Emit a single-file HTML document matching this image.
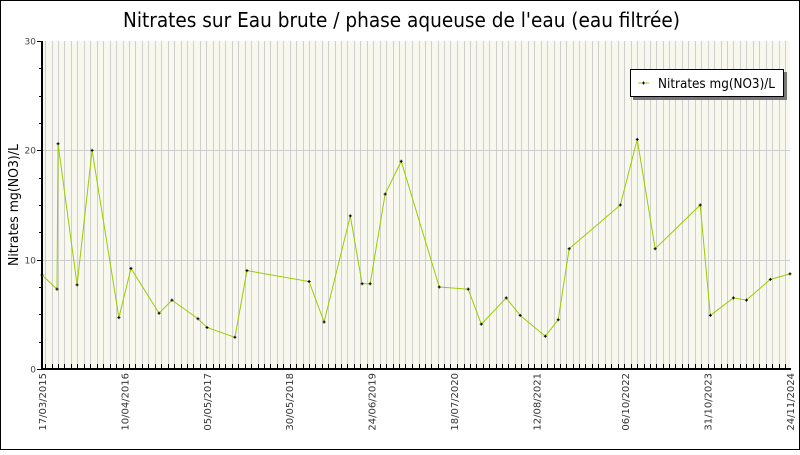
<!DOCTYPE html>
<html><head><meta charset="utf-8"><style>
html,body{margin:0;padding:0;background:#fff;}
svg text{font-family:"DejaVu Sans","Liberation Sans",sans-serif;}
</style></head><body>
<svg id="chart" width="800" height="450" viewBox="0 0 800 450" xmlns="http://www.w3.org/2000/svg">
<rect x="0.5" y="0.5" width="799" height="449" fill="#fff" stroke="#000"/>
<text x="123" y="27" font-size="20" fill="#000" textLength="557" lengthAdjust="spacingAndGlyphs">Nitrates sur Eau brute / phase aqueuse de l'eau (eau filtrée)</text>
<text transform="translate(18,205) rotate(-90)" text-anchor="middle" font-size="13" fill="#000" textLength="122" lengthAdjust="spacingAndGlyphs">Nitrates mg(NO3)/L</text>
<g id="plot"></g>
</svg>
<script>
const dates = ["2015-03-17","2015-05-27","2015-06-01","2015-08-30","2015-11-09","2016-03-15","2016-05-11","2016-09-21","2016-11-21","2017-03-24","2017-05-06","2017-09-15","2017-11-11","2018-09-01","2018-11-11","2019-03-15","2019-05-10","2019-06-17","2019-08-27","2019-11-11","2020-05-09","2020-09-23","2020-11-24","2021-03-22","2021-05-27","2021-09-23","2021-11-23","2022-01-14","2022-09-13","2022-12-02","2023-02-25","2023-09-26","2023-11-13","2024-03-01","2024-05-02","2024-08-23","2024-11-24"];
const values = [8.6,7.3,20.6,7.7,20.0,4.7,9.2,5.1,6.3,4.6,3.8,2.9,9.0,8.0,4.3,14.0,7.8,7.8,16.0,19.0,7.5,7.3,4.1,6.5,4.9,3.0,4.5,11.0,15.0,21.0,11.0,15.0,4.9,6.5,6.3,8.2,8.7];
const xTickLabels = ["17/03/2015","10/04/2016","05/05/2017","30/05/2018","24/06/2019","18/07/2020","12/08/2021","06/10/2022","31/10/2023","24/11/2024"];
const yTicks = [0,10,20,30];
const yMinorTicks = [2.5,5,7.5,12.5,15,17.5,22.5,25,27.5];

const NS="http://www.w3.org/2000/svg";
const L=42,R=790,T=41,B=369;
const parse=s=>{const p=s.split(/[-\/]/);return p[0].length===4?Date.UTC(+p[0],+p[1]-1,+p[2]):Date.UTC(+p[2],+p[1]-1,+p[0]);};
const t0=Date.UTC(2015,2,17), t1=Date.UTC(2024,10,24);
const xs=t=>L+(t-t0)/(t1-t0)*(R-L);
const ys=v=>B-v/30*(B-T);
const g=document.getElementById('plot');
function mk(tag,attrs,parent){const e=document.createElementNS(NS,tag);for(const k in attrs)e.setAttribute(k,attrs[k]);(parent||g).appendChild(e);return e;}

const bg=mk('rect',{x:L,y:T,width:R-L,height:B-T,fill:'#f8f8ef'});


for(let y=2015,m=3;;m++){if(m>11){m=0;y++;}const t=Date.UTC(y,m,1);if(t>t1)break;const x=Math.round(xs(t))+0.5;
 const gl=mk('line',{x1:x,x2:x,y1:T,y2:B,stroke:'#cfcfcf','stroke-width':1});
 
 
 const tk=mk('line',{x1:x,x2:x,y1:B-5,y2:B,stroke:'#000','stroke-width':1});
 
 
}
yTicks.forEach(v=>{const y=Math.round(ys(v))+0.5;
 if(v>0&&v<30){const hl=mk('line',{x1:L,x2:R,y1:y,y2:y,stroke:'#cfcfcf','stroke-width':1});
 
 }
 const tk=mk('line',{x1:L-5,x2:L,y1:y,y2:y,stroke:'#000'});
 
 
 const tx=mk('text',{x:L-6,y:y+3,'text-anchor':'end','font-size':9,fill:'#444'});
 tx.textContent=v;
 
 
});
yMinorTicks.forEach(v=>{const y=Math.round(ys(v))+0.5;
 const tk=mk('line',{x1:L-3,x2:L,y1:y,y2:y,stroke:'#000'});
 
 
});
xTickLabels.forEach(s=>{const x=xs(parse(s));
 const tx=mk('text',{transform:`translate(${x+4},${B+4}) rotate(-90)`,'text-anchor':'end','font-size':10,fill:'#333'});
 tx.textContent=s;
 
 
});
const ax=mk('path',{d:`M${L},${T} V${B} H${R+1}`,stroke:'#000','stroke-width':2,fill:'none'});


const pts=dates.map((d,i)=>[xs(parse(d)),ys(values[i])]);
const line=mk('polyline',{points:pts.map(p=>p.join(',')).join(' '),fill:'none',stroke:'#99cc00','stroke-width':1});


pts.forEach(p=>{const c=mk('path',{d:`M${p[0]-1.5},${p[1]} h3 M${p[0]},${p[1]-1.5} v3`,stroke:'#000','stroke-width':1});
 
 
});
const lg=mk('g',{});


mk('rect',{x:633,y:72,width:154,height:28,fill:'#777'},lg);
mk('rect',{x:630.5,y:69.5,width:153,height:27,fill:'#fff',stroke:'#000'},lg);
mk('line',{x1:638,x2:649,y1:83,y2:83,stroke:'#99cc00'},lg);
mk('path',{d:'M642,83 h3 M643.5,81.5 v3',stroke:'#000'},lg);
const lt=mk('text',{x:658,y:88,'font-size':13,fill:'#000',textLength:117,lengthAdjust:'spacingAndGlyphs'},lg);
lt.textContent='Nitrates mg(NO3)/L';


</script>
</body></html>
